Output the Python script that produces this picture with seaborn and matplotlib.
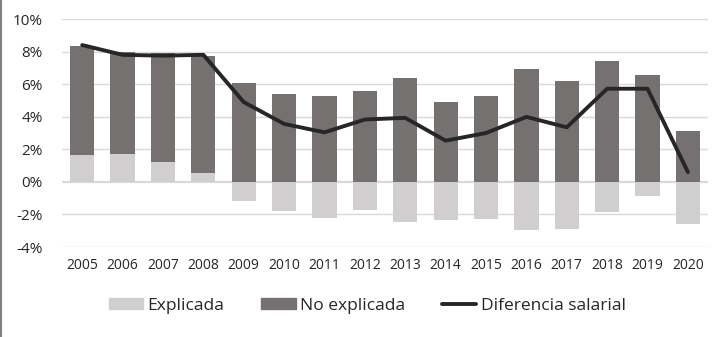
import matplotlib
matplotlib.use("Agg")
import matplotlib.pyplot as plt
from matplotlib.patches import Patch
from matplotlib.lines import Line2D
import seaborn as sns
import pandas as pd
import numpy as np

years = ["2005", "2006", "2007", "2008", "2009", "2010", "2011", "2012",
         "2013", "2014", "2015", "2016", "2017", "2018", "2019", "2020"]
explicada = [1.67, 1.70, 1.20, 0.57, -1.20, -1.77, -2.24, -1.71,
             -2.45, -2.33, -2.26, -2.94, -2.88, -1.83, -0.85, -2.57]
no_explicada = [6.66, 6.30, 6.70, 7.18, 6.10, 5.37, 5.30, 5.56,
                6.36, 4.88, 5.30, 6.91, 6.21, 7.40, 6.54, 3.15]
diferencia = [8.40, 7.80, 7.75, 7.80, 4.90, 3.56, 3.04, 3.83,
              3.93, 2.53, 3.00, 3.99, 3.35, 5.72, 5.72, 0.60]
yticks = [-4, -2, 0, 2, 4, 6, 8, 10]

c_light = "#d0cece"
c_dark = "#767171"
c_line = "#262626"

sns.set_theme(style="white")
plt.rcParams["font.family"] = ["Open Sans", "DejaVu Sans"]

df = pd.DataFrame({
    "year": years,
    "explicada": explicada,
    "no_explicada": no_explicada,
    "diferencia": diferencia,
})
df["dark_top"] = df["no_explicada"] + df["explicada"].clip(lower=0)

fig = plt.figure(figsize=(7.27, 3.37), dpi=100)
ax = fig.add_axes([0.0853, 0.267, 0.974 - 0.0853, 0.6766])

for t in yticks:
    ax.axhline(t, color="#d9d9d9", lw=1.0 if t != 0 else 1.6, zorder=0)

sns.barplot(data=df, x="year", y="dark_top", color=c_dark, width=0.6,
            saturation=1, ax=ax, zorder=2, linewidth=0)
sns.barplot(data=df, x="year", y="explicada", color=c_light, width=0.6,
            saturation=1, ax=ax, zorder=3, linewidth=0)
sns.lineplot(x=np.arange(len(years)), y=df["diferencia"], color=c_line,
             lw=2.8, ax=ax, zorder=4)

ax.set_xlim(-0.5, len(years) - 0.5)
ax.set_ylim(-4, 10)
ax.set_yticks(yticks)
ax.set_yticklabels([f"{t}%" for t in yticks], fontsize=11, color="#262626")
ax.set_xticks(range(len(years)))
ax.set_xticklabels(years, fontsize=10, color="#262626")
ax.tick_params(axis="both", length=0)
ax.tick_params(axis="y", pad=14)
ax.tick_params(axis="x", pad=8)
ax.set_xlabel("")
ax.set_ylabel("")
for s in ax.spines.values():
    s.set_visible(False)

handles = [Patch(color=c_light, label="Explicada"),
           Patch(color=c_dark, label="No explicada"),
           Line2D([0], [0], color=c_line, lw=2.8, label="Diferencia salarial")]
fig.legend(handles=handles, loc="center", bbox_to_anchor=(0.505, 0.092), ncol=3,
           frameon=False, fontsize=12.5, handlelength=2.0, handleheight=0.6,
           handletextpad=0.25, columnspacing=2.1)

fig.add_artist(Line2D([0.0015, 0.0015], [0, 1], transform=fig.transFigure,
                      color="#808080", lw=1.5))

fig.savefig("out.png", dpi=100)
